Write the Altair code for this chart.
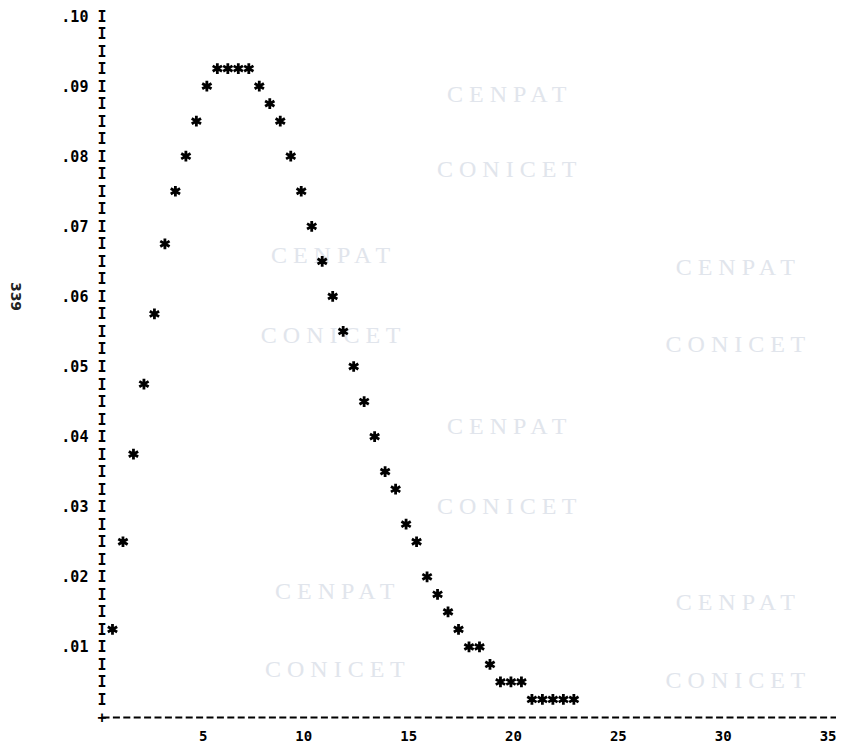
import altair as alt
import pandas as pd

# Printer-plot data (x step 0.5, y quantised to 0.0025 rows)
x_vals = [0.5, 1.0, 1.5, 2.0, 2.5, 3.0, 3.5, 4.0, 4.5, 5.0,
          5.5, 6.0, 6.5, 7.0, 7.5, 8.0, 8.5, 9.0, 9.5, 10.0,
          10.5, 11.0, 11.5, 12.0, 12.5, 13.0, 13.5, 14.0, 14.5, 15.0,
          15.5, 16.0, 16.5, 17.0, 17.5, 18.0, 18.5, 19.0, 19.5, 20.0,
          20.5, 21.0, 21.5, 22.0, 22.5]
y_vals = [0.0125, 0.025, 0.0375, 0.0475, 0.0575, 0.0675, 0.075, 0.08, 0.085, 0.09,
          0.0925, 0.0925, 0.0925, 0.0925, 0.09, 0.0875, 0.085, 0.08, 0.075, 0.07,
          0.065, 0.06, 0.055, 0.05, 0.045, 0.04, 0.035, 0.0325, 0.0275, 0.025,
          0.02, 0.0175, 0.015, 0.0125, 0.01, 0.01, 0.0075, 0.005, 0.005, 0.005,
          0.0025, 0.0025, 0.0025, 0.0025, 0.0025]

# axis rows of the printer plot (one "I" per row)
y_ticks = [round(0.0025 * i, 4) for i in range(0, 41)]
x_ticks = [5, 10, 15, 20, 25, 30, 35]
page_label = "339"

# faint archive watermark text
wm_text = ["C E N P A T", "C O N I C E T", "C E N P A T", "C O N I C E T",
           "C E N P A T", "C O N I C E T", "C E N P A T", "C O N I C E T",
           "C E N P A T", "C O N I C E T", "C E N P A T", "C O N I C E T"]
wm_x = [10.9, 10.9, 11.1, 11.1, 19.3, 19.3, 19.3, 19.3, 30.2, 30.2, 30.2, 30.2]
wm_y = [0.0658, 0.0543, 0.0178, 0.0067, 0.0887, 0.0780, 0.0413, 0.0300,
        0.0640, 0.0530, 0.0163, 0.0051]

pts = pd.DataFrame({"x": x_vals, "y": y_vals})
wm = pd.DataFrame({"t": wm_text, "x": wm_x, "y": wm_y})

MONO = "DejaVu Sans Mono"
star = "M0,-1L0,1M-0.87,-0.5L0.87,0.5M-0.87,0.5L0.87,-0.5"

xscale = alt.Scale(domain=[0, 35], nice=False, zero=False)
yscale = alt.Scale(domain=[0, 0.10], nice=False, zero=False)

y_label_expr = (
    "datum.value < 0.001 ? '+' : "
    "(round(datum.value * 400) % 4 == 0 ? "
    "replace(format(datum.value, '.2f'), '0.', '.') + '  I' : 'I')"
)

x_axis = alt.Axis(values=x_ticks, format="d", title=None,
                  labelAlign="right", labelBaseline="top",
                  labelPadding=12,
                  labelFont=MONO, labelFontWeight="bold",
                  labelFontSize=14, labelColor="black",
                  ticks=False, grid=False, labelFlush=False,
                  labelOverlap=False,
                  domain=True, domainColor="black",
                  domainWidth=1.8, domainDash=[7, 3.4])
y_axis = alt.Axis(values=y_ticks, labelExpr=y_label_expr,
                  labelAlign="right", labelBaseline="middle",
                  labelPadding=-4,
                  labelFont=MONO, labelFontWeight="bold",
                  labelFontSize=15, labelColor="black",
                  ticks=False, grid=False, domain=False,
                  labelFlush=False, labelOverlap=False,
                  title=page_label, titleAngle=90,
                  titleX=-88, titleY=280,
                  titleAlign="center", titleBaseline="middle",
                  titleFont="DejaVu Sans", titleFontSize=14,
                  titleFontWeight="bold", titleColor="#222222")

x_enc = alt.X("x:Q", scale=xscale, axis=x_axis)
y_enc = alt.Y("y:Q", scale=yscale, axis=y_axis)

watermark = alt.Chart(wm).mark_text(
    font="Liberation Serif", fontSize=24, color="#e1e5ec"
).encode(x=x_enc, y=y_enc, text="t:N")

stars = alt.Chart(pts).mark_point(
    shape=star, size=115, filled=False, stroke="black",
    strokeWidth=2.8, opacity=1
).encode(x=x_enc, y=y_enc)

chart = alt.layer(watermark, stars).properties(
    width=734, height=701,
    autosize=alt.AutoSizeParams(type="none"),
    padding={"left": 94, "top": 8, "right": 0, "bottom": 30},
    background="white",
).configure_view(stroke=None)

chart.save("out.html", embed_options={"renderer": "svg", "actions": False})
